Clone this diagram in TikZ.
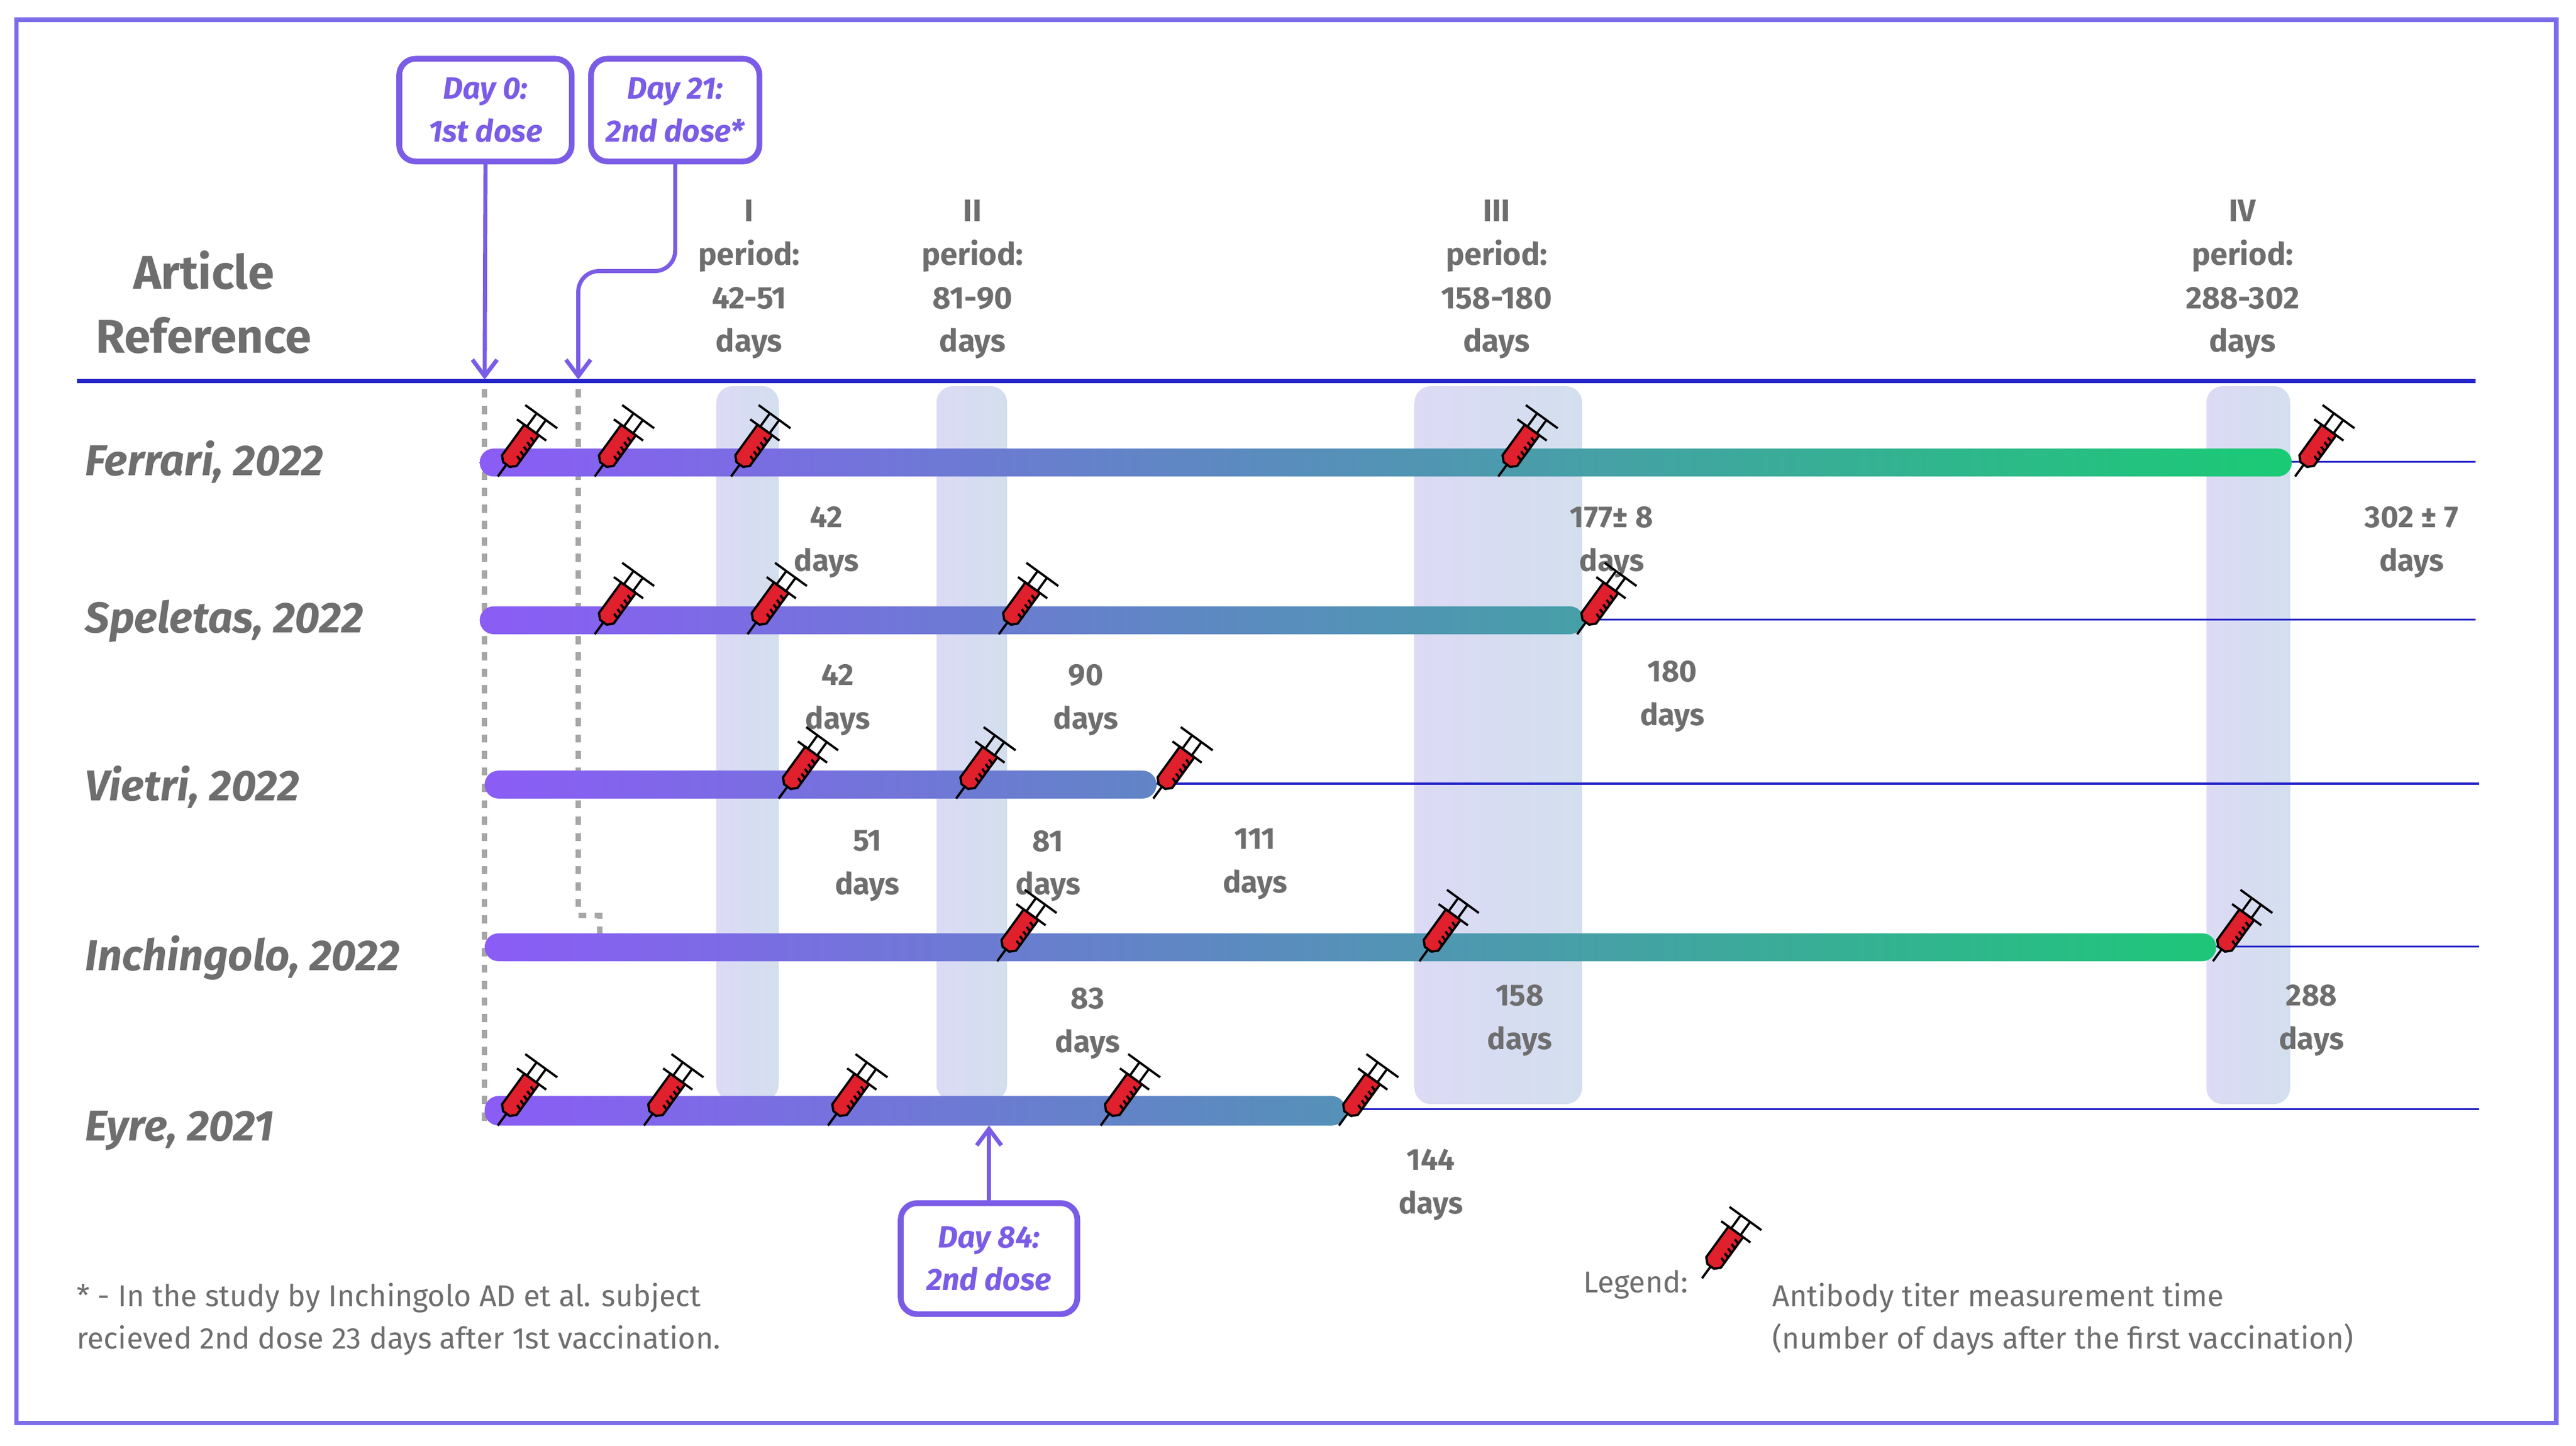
\documentclass[tikz,border=0pt]{standalone}
\usepackage{fontspec}
\setmainfont{Fira Sans}
\usetikzlibrary{arrows.meta}
\begin{document}
\definecolor{frame}{HTML}{7B6CE8}
\definecolor{hline}{HTML}{2424C8}
\definecolor{bxc}{HTML}{7A5CE6}
\definecolor{txt}{HTML}{6E6E6E}
\definecolor{P}{HTML}{8B5CF6}
\definecolor{G}{HTML}{1ACB74}
\definecolor{bandL}{HTML}{DCDAF5}
\definecolor{bandR}{HTML}{D3DFEE}
\definecolor{syred}{HTML}{E0202C}
\begin{tikzpicture}[x=0.4pt,y=-0.4pt,
  dbox/.style={draw=bxc,line width=1.4pt,rounded corners=4pt,text=bxc,font=\fontsize{7.5}{10.4}\selectfont\bfseries\itshape,align=center,minimum width=40pt,minimum height=25pt,inner sep=1pt},
  arr/.style={draw=bxc,line width=1pt,-{Straight Barb[length=4pt,width=6pt]}},
  per/.style={text=txt,font=\fontsize{7.6}{10.6}\selectfont\bfseries,align=center},
  row/.style={text=txt,font=\fontsize{10.5}{12}\selectfont\bfseries\itshape,anchor=west},
  lab/.style={text=txt,font=\fontsize{7.4}{10.6}\selectfont\bfseries,align=center},
  dots/.style={draw=gray!70,line width=1.3pt,dash pattern=on 2pt off 2pt},
  thin/.style={draw=hline,line width=0.5pt},
  band/.style={left color=bandL,right color=bandR,draw=none,rounded corners=4pt},
  note/.style={text=txt,font=\fontsize{7.3}{10.4}\selectfont,align=left,anchor=north west},
  syr/.pic={
    \begin{scope}[rotate=54,line width=0.55pt,line join=round]
      \draw (0,0)--(9,0);
      \filldraw[fill=syred] (9,-2.5)--(12,-5.5)--(35,-5.5)--(35,5.5)--(12,5.5)--(9,2.5)--cycle;
      \foreach \t in {16,19.5,23,26.5,30} \draw (\t,5.5)--(\t+1,2.2);
      \draw (35,-11)--(35,11);
      \draw (35,-3.5)--(45,-3.5) (35,3.5)--(45,3.5);
      \draw (45,-12)--(45,12);
    \end{scope}}
]
\useasboundingbox (0,0) rectangle (1568,880);
\draw[draw=frame,line width=1.1pt] (10,12) rectangle (1556,866);

% bands
\shade[band] (436,235) rectangle (474,670);
\shade[band] (570,235) rectangle (613,670);
\shade[band] (861,235) rectangle (963,672);
\shade[band] (1343,235) rectangle (1394,672);

% header
\node[text=txt,font=\fontsize{11.5}{15.6}\selectfont\bfseries,align=center] (ar) at (124,184) {Article\\Reference};
\draw[hline,line width=1.1pt] (47,232) -- (1507,232);
\node[per] (p1) at (456,170) {I\\period:\\42-51\\days};
\node[per] (p2) at (592,170) {II\\period:\\81-90\\days};
\node[per] (p3) at (911,170) {III\\period:\\158-180\\days};
\node[per] (p4) at (1365,170) {IV\\period:\\288-302\\days};

\node[dbox,minimum width=42pt] (d0) at (295.5,67) {Day 0:\\1st dose};
\node[dbox,minimum width=41pt] (d21) at (411,67) {Day 21:\\2nd dose*};
\coordinate (t0) at (295,231);
\coordinate (t21) at (352,231);
\draw[arr] (d0.south) -- (t0);
\draw[arr,rounded corners=5pt] (d21.south) -- (411,165) -- (352,165) -- (t21);

% dotted guides
\draw[dots] (295,237) -- (295,682);
\draw[dots] (352,237) -- (352,557) -- (365,557) -- (365,582);

% rows
\node[row] (r1) at (43,281) {Ferrari, 2022};
\node[row] (r2) at (43,378) {Speletas, 2022};
\node[row] (r3) at (43,479) {Vietri, 2022};
\node[row] (r4) at (43,583) {Inchingolo, 2022};
\node[row] (r5) at (43,688) {Eyre, 2021};

\draw[thin] (1390,281) -- (1507,281);
\draw[thin] (962,377) -- (1507,377);
\draw[thin] (700,477) -- (1509,477);
\draw[thin] (1345,576) -- (1509,576);
\draw[thin] (816,675) -- (1509,675);

\shade[left color=P,right color=G,rounded corners=3.4pt] (292,273) rectangle (1395,290);
\shade[left color=P,right color=G!61!P,rounded corners=3.4pt] (292,369) rectangle (964,386);
\shade[left color=P,right color=G!37!P,rounded corners=3.4pt] (295,469) rectangle (704,486);
\shade[left color=P,right color=G!96!P,rounded corners=3.4pt] (295,568) rectangle (1349,585);
\shade[left color=P,right color=G!48!P,rounded corners=3.4pt] (295,667) rectangle (819,685);

% syringes Ferrari
\foreach \x in {303,362,445,912,1397} \pic at (\x,290) {syr};
\node[lab] at (503,330) {42\\days};
\node[lab] at (981,330) {177± 8\\days};
\node[lab] at (1468,330) {302 ± 7\\days};
% Speletas
\foreach \x in {362,455,608,960} \pic at (\x,386) {syr};
\node[lab] at (510,426) {42\\days};
\node[lab] at (661,426) {90\\days};
\node[lab] at (1018,424) {180\\days};
% Vietri
\foreach \x in {474,582,702} \pic at (\x,486) {syr};
\node[lab] at (528,527) {51\\days};
\node[lab] at (638,527) {81\\days};
\node[lab] at (764,526) {111\\days};
% Inchingolo
\foreach \x in {607,864,1347} \pic at (\x,585) {syr};
\node[lab] at (662,623) {83\\days};
\node[lab] at (925,621) {158\\days};
\node[lab] at (1407,621) {288\\days};
% Eyre
\foreach \x in {303,392,504,670,815} \pic at (\x,685) {syr};
\node[lab] at (871,721) {144\\days};

\node[dbox,minimum width=43pt,minimum height=27pt] (d84) at (602,766) {Day 84:\\2nd dose};
\coordinate (t84) at (602,685);
\draw[arr] (d84.north) -- (t84);

% footnote & legend
\node[note] (fn) at (38,772) {* - In the study by Inchingolo AD et al. subject\\recieved 2nd dose 23 days after 1st vaccination.};
\node[note,anchor=west] (lg) at (955,782) {Legend:};
\pic at (1036,778) {syr};
\node[note] (lgt) at (1070,772) {Antibody titer measurement time\\(number of days after the first vaccination)};
\end{tikzpicture}
\end{document}
